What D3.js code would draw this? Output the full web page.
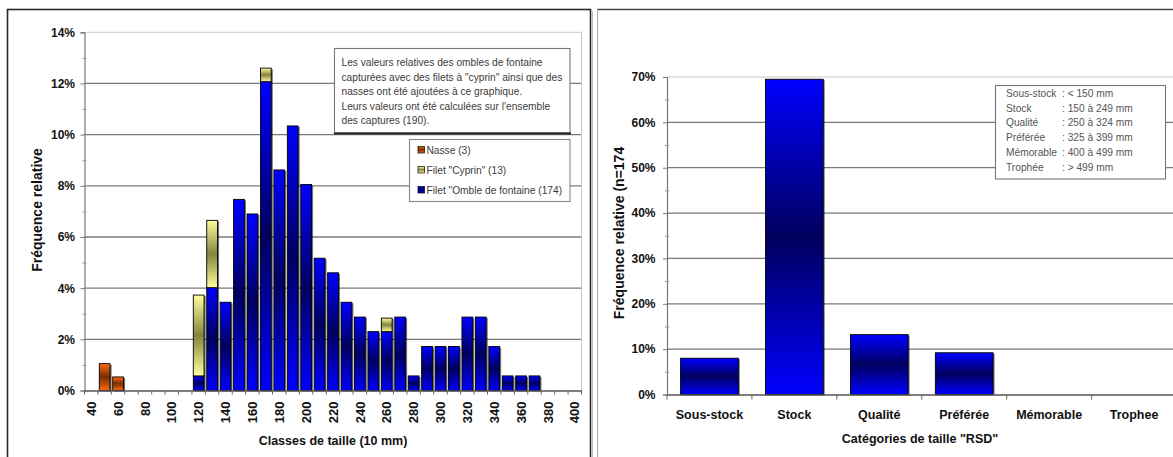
<!DOCTYPE html>
<html>
<head>
<meta charset="utf-8">
<script src="https://cdn.jsdelivr.net/npm/d3@7/dist/d3.min.js"></script>
<style>
  html, body { margin: 0; padding: 0; background: #fff; }
  svg { display: block; font-family: "Liberation Sans", Arial, sans-serif; }
</style>
</head>
<body>
<svg id="chart" width="1173" height="457"></svg>
<script>
// ---------- Size-class histogram (relative frequency, %) ----------
const sizeClasses = [40, 50, 60, 70, 80, 90, 100, 110, 120, 130, 140, 150, 160, 170, 180, 190,
  200, 210, 220, 230, 240, 250, 260, 270, 280, 290, 300, 310, 320, 330, 340, 350, 360, 370,
  380, 390, 400];
const ombleValues = [0, 0, 0, 0, 0, 0, 0, 0, 0.57, 4.02, 3.45, 7.47, 6.90, 12.07, 8.62, 10.34,
  8.05, 5.17, 4.60, 3.45, 2.87, 2.30, 2.30, 2.87, 0.57, 1.72, 1.72, 1.72, 2.87, 2.87, 1.72, 0.57,
  0.57, 0.57, 0, 0, 0];
const cyprinValues = [0, 0, 0, 0, 0, 0, 0, 0, 3.16, 2.63, 0, 0, 0, 0.53, 0, 0,
  0, 0, 0, 0, 0, 0, 0.53, 0, 0, 0, 0, 0, 0, 0, 0, 0,
  0, 0, 0, 0, 0];
const nasseValues = [0, 1.05, 0.53, 0, 0, 0, 0, 0, 0, 0, 0, 0, 0, 0, 0, 0,
  0, 0, 0, 0, 0, 0, 0, 0, 0, 0, 0, 0, 0, 0, 0, 0,
  0, 0, 0, 0, 0];
const sizeTickLabels = [40, 60, 80, 100, 120, 140, 160, 180, 200, 220, 240, 260, 280, 300, 320, 340, 360, 380, 400];
const leftPctTicks = [0, 2, 4, 6, 8, 10, 12, 14];
const leftPctMinor = [1, 3, 5, 7, 9, 11, 13];
const seriesNames = ["Nasse (3)", "Filet \"Cyprin\" (13)", "Filet \"Omble de fontaine (174)"];
const noteLines = [
  "Les valeurs relatives des ombles de fontaine",
  "capturées avec des filets à \"cyprin\" ainsi que des",
  "nasses ont été ajoutées à ce graphique.",
  "Leurs valeurs ont été calculées sur l'ensemble",
  "des captures (190)."
];

// ---------- RSD size categories (relative frequency, %) ----------
const rsdCategories = ["Sous-stock", "Stock", "Qualité", "Préférée", "Mémorable", "Trophee"];
const rsdValues = [8.0, 69.5, 13.2, 9.2, 0, 0];
const rightPctTicks = [0, 10, 20, 30, 40, 50, 60, 70];
const rightPctMinor = [5, 15, 25, 35, 45, 55, 65];
const rsdNames = ["Sous-stock", "Stock", "Qualité", "Préférée", "Mémorable", "Trophée"];
const rsdRanges = [": < 150 mm", ": 150 à 249 mm", ": 250 à 324 mm", ": 325 à 399 mm", ": 400 à 499 mm", ":  > 499 mm"];

const svg = d3.select("#chart");
const defs = svg.append("defs");

// Vertical "light - dark - light" fills, one per series
function addGradient(id, light, dark) {
  const g = defs.append("linearGradient").attr("id", id)
    .attr("x1", 0).attr("y1", 0).attr("x2", 0).attr("y2", 1);
  g.append("stop").attr("offset", "0%").attr("stop-color", light);
  g.append("stop").attr("offset", "50%").attr("stop-color", dark);
  g.append("stop").attr("offset", "100%").attr("stop-color", light);
}
addGradient("gBlue", "#0000ff", "#00005e");
addGradient("gYellow", "#ffff9c", "#85843f");
addGradient("gOrange", "#ff6a10", "#7a2c00");

const FONT_TICK = "12px";
const boldTick = sel => sel.attr("font-size", FONT_TICK).attr("font-weight", "bold").attr("fill", "#111");

// ---------- Panels ----------
svg.append("rect").attr("x", 7.5).attr("y", 9.5).attr("width", 583).attr("height", 470)
  .attr("fill", "none").attr("stroke", "#2a2a2a").attr("stroke-width", 1.6);
svg.append("line").attr("x1", 592.5).attr("x2", 592.5).attr("y1", 11).attr("y2", 457)
  .attr("stroke", "#bbb").attr("stroke-width", 1);
svg.append("line").attr("x1", 597).attr("x2", 1173).attr("y1", 9.5).attr("y2", 9.5)
  .attr("stroke", "#444").attr("stroke-width", 1.3);
svg.append("line").attr("x1", 597.5).attr("x2", 597.5).attr("y1", 9).attr("y2", 457)
  .attr("stroke", "#aaa").attr("stroke-width", 1);

// ================= Left chart =================
const L = { x0: 84.5, x1: 581.5, yTop: 32.3, yBot: 390.5 };
const xL = d3.scaleBand().domain(sizeClasses).range([L.x0, L.x1]).paddingInner(0.2).paddingOuter(0.1);
const yL = d3.scaleLinear().domain([0, 14]).range([L.yBot, L.yTop]);
const gL = svg.append("g");

// horizontal gridlines
gL.append("g").selectAll("line").data(leftPctTicks.filter(d => d > 0)).join("line")
  .attr("x1", L.x0).attr("x2", L.x1).attr("y1", d => yL(d)).attr("y2", d => yL(d))
  .attr("stroke", d => d === 14 ? "#c8c8c8" : "#7a7a7a").attr("stroke-width", d => d === 14 ? 1 : 1.3);
gL.append("line").attr("x1", L.x1).attr("x2", L.x1).attr("y1", L.yTop).attr("y2", L.yBot)
  .attr("stroke", "#c8c8c8").attr("stroke-width", 1);

// stacked bars
const rowsL = sizeClasses.map((c, i) => ({ cls: c, omble: ombleValues[i], cyprin: cyprinValues[i], nasse: nasseValues[i] }));
const stackL = d3.stack().keys(["omble", "cyprin", "nasse"])(rowsL);
const fillL = { omble: "url(#gBlue)", cyprin: "url(#gYellow)", nasse: "url(#gOrange)" };
const segs = [];
stackL.forEach(s => s.forEach(d => { if (d[1] - d[0] > 0) segs.push({ key: s.key, cls: d.data.cls, y0: d[0], y1: d[1] }); }));

gL.append("g").selectAll("rect").data(segs).join("rect")
  .attr("x", d => xL(d.cls) + 1.6).attr("y", d => yL(d.y1) + 1)
  .attr("width", xL.bandwidth()).attr("height", d => yL(d.y0) - yL(d.y1))
  .attr("fill", "#000").attr("opacity", 0.55);
gL.append("g").selectAll("rect").data(segs).join("rect")
  .attr("x", d => xL(d.cls)).attr("y", d => yL(d.y1))
  .attr("width", xL.bandwidth()).attr("height", d => yL(d.y0) - yL(d.y1))
  .attr("fill", d => fillL[d.key]).attr("stroke", "#000").attr("stroke-width", 0.9);

// y axis
const yAxisL = gL.append("g").attr("transform", `translate(${L.x0},0)`)
  .call(d3.axisLeft(yL).tickValues(leftPctTicks).tickFormat(d => d + "%").tickSize(4).tickPadding(5.5));
yAxisL.select(".domain").attr("stroke", "#777").attr("stroke-width", 1.2);
yAxisL.selectAll(".tick line").attr("stroke", "#777");
yAxisL.selectAll("text").call(boldTick).attr("font-family", null);
yAxisL.attr("font-family", null);
const yMinorL = gL.append("g").attr("transform", `translate(${L.x0 + 2},0)`)
  .call(d3.axisLeft(yL).tickValues(leftPctMinor).tickFormat("").tickSize(4));
yMinorL.select(".domain").remove();
yMinorL.selectAll(".tick line").attr("stroke", "#999");

// x axis: category boundary ticks + rotated labels
const xAxisL = gL.append("g").attr("transform", `translate(0,${L.yBot})`)
  .call(d3.axisBottom(xL).tickValues(sizeTickLabels).tickSize(0).tickPadding(0));
xAxisL.attr("font-family", null);
xAxisL.select(".domain").attr("stroke", "#555").attr("stroke-width", 1.3);
xAxisL.selectAll("text")
  .attr("transform", "rotate(-90)").attr("text-anchor", "end")
  .attr("x", -11).attr("y", 0).attr("dy", "0.36em")
  .attr("font-size", "13px").attr("font-weight", "bold").attr("fill", "#111");
gL.append("g").selectAll("line").data(d3.range(sizeClasses.length + 1)).join("line")
  .attr("x1", i => L.x0 + i * xL.step()).attr("x2", i => L.x0 + i * xL.step())
  .attr("y1", L.yBot).attr("y2", L.yBot + 4).attr("stroke", "#666").attr("stroke-width", 1);

// titles
gL.append("text").attr("x", (L.x0 + L.x1) / 2).attr("y", 444.5).attr("text-anchor", "middle")
  .attr("font-size", "12.5px").attr("font-weight", "bold").attr("fill", "#111")
  .text("Classes de taille (10 mm)");
gL.append("text").attr("transform", "translate(37,210) rotate(-90)").attr("text-anchor", "middle")
  .attr("dy", "0.36em").attr("font-size", "14px").attr("font-weight", "bold").attr("fill", "#111")
  .text("Fréquence relative");

// note box
const note = gL.append("g");
note.append("rect").attr("x", 334.5).attr("y", 48.5).attr("width", 235.5).attr("height", 84.5)
  .attr("fill", "#fff").attr("stroke", "#777").attr("stroke-width", 1.1);
note.append("line").attr("x1", 334).attr("x2", 571).attr("y1", 133.5).attr("y2", 133.5)
  .attr("stroke", "#222").attr("stroke-width", 2);
note.selectAll("text").data(noteLines).join("text")
  .attr("x", 341.5).attr("y", (d, i) => 66.2 + i * 14.5)
  .attr("font-size", "10.2px").attr("fill", "#3c3c3c").text(d => d);

// legend
const leg = gL.append("g");
leg.append("rect").attr("x", 409.5).attr("y", 139.5).attr("width", 160.5).attr("height", 62)
  .attr("fill", "#fff").attr("stroke", "#888").attr("stroke-width", 1.1);
const legFills = ["url(#gOrange)", "url(#gYellow)", "url(#gBlue)"];
const legItems = leg.selectAll("g").data(seriesNames).join("g")
  .attr("transform", (d, i) => `translate(418,${150 + i * 20})`);
legItems.append("rect").attr("x", 0).attr("y", -3.5).attr("width", 6.5).attr("height", 6.5)
  .attr("fill", (d, i) => legFills[i]).attr("stroke", "#000").attr("stroke-width", 0.7);
legItems.append("text").attr("x", 8.5).attr("y", 0).attr("dy", "0.35em")
  .attr("font-size", "10.2px").attr("fill", "#3c3c3c").text(d => d);

// ================= Right chart =================
const R = { x0: 667, x1: 1176.5, yTop: 77, yBot: 394.5 };
const xR = d3.scaleBand().domain(rsdCategories).range([R.x0, R.x1]).paddingInner(0.32).paddingOuter(0.16);
const yR = d3.scaleLinear().domain([0, 70]).range([R.yBot, R.yTop]);
const gR = svg.append("g");

gR.append("g").selectAll("line").data(rightPctTicks.filter(d => d > 0)).join("line")
  .attr("x1", R.x0).attr("x2", R.x1).attr("y1", d => yR(d)).attr("y2", d => yR(d))
  .attr("stroke", d => d === 70 ? "#c8c8c8" : "#7a7a7a").attr("stroke-width", d => d === 70 ? 1 : 1.3);

const rsdRows = rsdCategories.map((c, i) => ({ cat: c, v: rsdValues[i] })).filter(d => d.v > 0);
gR.append("g").selectAll("rect").data(rsdRows).join("rect")
  .attr("x", d => xR(d.cat) + 1.5).attr("y", d => yR(d.v) + 1)
  .attr("width", xR.bandwidth()).attr("height", d => yR(0) - yR(d.v))
  .attr("fill", "#000").attr("opacity", 0.5);
gR.append("g").selectAll("rect").data(rsdRows).join("rect")
  .attr("x", d => xR(d.cat)).attr("y", d => yR(d.v))
  .attr("width", xR.bandwidth()).attr("height", d => yR(0) - yR(d.v))
  .attr("fill", "url(#gBlue)").attr("stroke", "#000").attr("stroke-width", 0.9);

const yAxisR = gR.append("g").attr("transform", `translate(${R.x0},0)`)
  .call(d3.axisLeft(yR).tickValues(rightPctTicks).tickFormat(d => d + "%").tickSize(4).tickPadding(7.5));
yAxisR.attr("font-family", null);
yAxisR.select(".domain").attr("stroke", "#777").attr("stroke-width", 1.2);
yAxisR.selectAll(".tick line").attr("stroke", "#777");
yAxisR.selectAll("text").call(boldTick);
const yMinorR = gR.append("g").attr("transform", `translate(${R.x0 + 2},0)`)
  .call(d3.axisLeft(yR).tickValues(rightPctMinor).tickFormat("").tickSize(4));
yMinorR.select(".domain").remove();
yMinorR.selectAll(".tick line").attr("stroke", "#999");

const xAxisR = gR.append("g").attr("transform", `translate(0,${R.yBot})`)
  .call(d3.axisBottom(xR).tickSize(0).tickPadding(16));
xAxisR.attr("font-family", null);
xAxisR.select(".domain").attr("stroke", "#555").attr("stroke-width", 1.3);
xAxisR.selectAll("text").attr("font-size", "12.5px").attr("font-weight", "bold").attr("fill", "#111");
gR.append("g").selectAll("line").data(d3.range(rsdCategories.length + 1)).join("line")
  .attr("x1", i => R.x0 + i * xR.step()).attr("x2", i => R.x0 + i * xR.step())
  .attr("y1", R.yBot).attr("y2", R.yBot + 5).attr("stroke", "#666").attr("stroke-width", 1);

gR.append("text").attr("x", 920).attr("y", 442.5).attr("text-anchor", "middle")
  .attr("font-size", "12.5px").attr("font-weight", "bold").attr("fill", "#111")
  .text("Catégories de taille \"RSD\"");
gR.append("text").attr("transform", "translate(618.5,233) rotate(-90)").attr("text-anchor", "middle")
  .attr("dy", "0.36em").attr("font-size", "14px").attr("font-weight", "bold").attr("fill", "#111")
  .text("Fréquence relative (n=174");

// category definitions box
const box = gR.append("g");
box.append("rect").attr("x", 995.5).attr("y", 85.5).attr("width", 170).attr("height", 93.5)
  .attr("fill", "#fff").attr("stroke", "#777").attr("stroke-width", 1.1);
box.selectAll("text.n").data(rsdNames).join("text").attr("class", "n")
  .attr("x", 1006).attr("y", (d, i) => 97 + i * 14.7)
  .attr("font-size", "10.2px").attr("fill", "#555").text(d => d);
box.selectAll("text.r").data(rsdRanges).join("text").attr("class", "r")
  .attr("x", 1062).attr("y", (d, i) => 97 + i * 14.7)
  .attr("font-size", "10.2px").attr("fill", "#555").text(d => d);
</script>
</body>
</html>
